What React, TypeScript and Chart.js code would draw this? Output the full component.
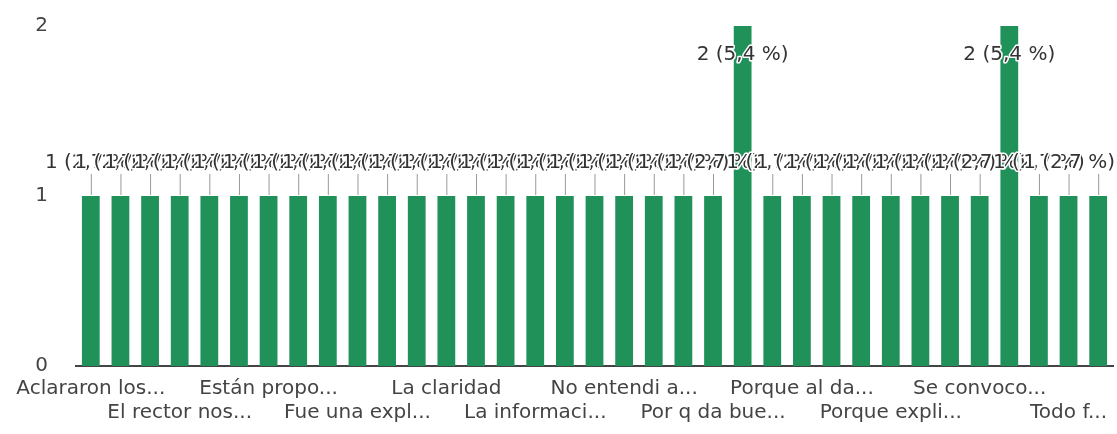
import React, { useEffect, useRef } from "react";
import { Chart, registerables } from "chart.js";

Chart.register(...registerables);

// Answer categories (alphabetical, as in the form summary). Only every third one is shown on the axis.
const categories: string[] = [
  "Aclararon los...",
  "Aclaró dudas",
  "Bien explicado",
  "El rector nos...",
  "Entendí todo",
  "Es claro",
  "Están propo...",
  "Excelente",
  "Fue clara",
  "Fue una expl...",
  "Hubo buena...",
  "La charla fue...",
  "La claridad",
  "La comunicac...",
  "La explicaci...",
  "La informaci...",
  "Me quedó claro",
  "Muy buena...",
  "No entendi a...",
  "Nos dieron...",
  "Por la claridad",
  "Por q da bue...",
  "Porque",
  "Porque aclar...",
  "Porque al da...",
  "Porque dio...",
  "Porque es...",
  "Porque expli...",
  "Porque fue...",
  "Porque se...",
  "Se convoco...",
  "Se entendió",
  "Sí",
  "Todo f...",
  "Todo quedó...",
];

// Number of responses per category
const responses: number[] = [
  1, 1, 1, 1, 1, 1, 1, 1, 1, 1,
  1, 1, 1, 1, 1, 1, 1, 1, 1, 1,
  1, 1, 2, 1, 1, 1, 1, 1, 1, 1,
  1, 2, 1, 1, 1,
];

const yTickValues: number[] = [0, 1, 2];
const tickLabelEvery = 3;

const FONT = "'DejaVu Sans', sans-serif";
const BAR_COLOR = "#21915a";

const annotationPlugin = {
  id: "barAnnotations",
  afterDatasetsDraw(chart: any) {
    const { ctx, chartArea } = chart;
    const meta = chart.getDatasetMeta(0);
    const total = responses.reduce((a, b) => a + b, 0);
    ctx.save();
    ctx.font = `20px ${FONT}`;
    ctx.textAlign = "center";
    ctx.textBaseline = "middle";
    ctx.lineJoin = "round";
    meta.data.forEach((bar: any, i: number) => {
      const v = responses[i];
      const pct = ((v / total) * 100).toFixed(1).replace(".", ",");
      const text = `${v} (${pct} %)`;
      const w = ctx.measureText(text).width;
      let x = bar.x;
      x = Math.min(x, chart.width - 2 - w / 2);
      let y = bar.y - 33;
      let stem = true;
      if (y - 12 < chartArea.top) {
        y = chartArea.top + 29;
        stem = false;
      }
      if (stem) {
        ctx.beginPath();
        ctx.strokeStyle = "#999";
        ctx.lineWidth = 1;
        ctx.moveTo(bar.x + 0.5, y + 11);
        ctx.lineTo(bar.x + 0.5, bar.y - 1);
        ctx.stroke();
      }
      ctx.strokeStyle = "#ffffff";
      ctx.lineWidth = 3;
      ctx.strokeText(text, x, y);
      ctx.fillStyle = "#333";
      ctx.fillText(text, x, y);
    });
    ctx.restore();
  },
};

export default function App() {
  const canvasRef = useRef<HTMLCanvasElement | null>(null);

  useEffect(() => {
    document.body.style.margin = "0";
    const canvas = canvasRef.current;
    if (!canvas) return;
    const chart = new Chart(canvas, {
      type: "bar",
      data: {
        labels: categories,
        datasets: [
          {
            data: responses,
            backgroundColor: BAR_COLOR,
            barPercentage: 0.6,
            categoryPercentage: 1,
          },
        ],
      },
      options: {
        responsive: false,
        animation: false,
        devicePixelRatio: 1,
        layout: { padding: { top: 26, right: 4, left: 0, bottom: 0 } },
        plugins: {
          legend: { display: false },
          tooltip: { enabled: false },
        },
        scales: {
          x: {
            grid: { display: true, color: "rgba(0,0,0,0)", drawTicks: false },
            border: { display: true, color: "#444", width: 2 },
            ticks: {
              autoSkip: false,
              maxRotation: 0,
              minRotation: 0,
              padding: 11,
              color: "#444",
              font: { family: FONT, size: 20, lineHeight: 1.2 },
              callback: (_val: any, idx: number) => {
                if (idx % tickLabelEvery !== 0) return "";
                const row = (idx / tickLabelEvery) % 2;
                return row === 0 ? [categories[idx], ""] : ["", categories[idx]];
              },
            },
            afterFit: (s: any) => {
              s.height = 68;
            },
          },
          y: {
            min: yTickValues[0],
            max: yTickValues[yTickValues.length - 1],
            grid: { display: false, drawTicks: false },
            border: { display: false },
            ticks: {
              stepSize: 1,
              padding: 28,
              color: "#444",
              font: { family: FONT, size: 20 },
            },
            afterFit: (s: any) => {
              s.width = 76;
              s.paddingTop = 0;
              s.paddingBottom = 0;
            },
          },
        },
      },
      plugins: [annotationPlugin],
    } as any);
    return () => chart.destroy();
  }, []);

  return (
    <div style={{ width: 1117, height: 434, background: "#fff" }}>
      <canvas ref={canvasRef} width={1117} height={434} />
    </div>
  );
}
